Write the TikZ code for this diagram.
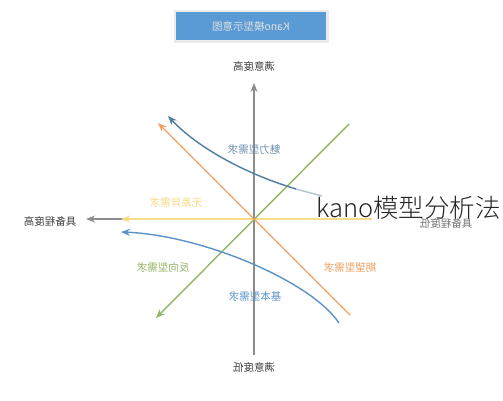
\documentclass[tikz,border=0pt]{standalone}
\usepackage{fontspec}
\usepackage{graphicx}
\newfontfamily\cjk{Noto Sans CJK SC}
\newfontfamily\cjklight{Noto Sans CJK SC Light}
\usetikzlibrary{arrows.meta}
\definecolor{axisgray}{HTML}{8C8C8C}
\definecolor{titleblue}{HTML}{5B9BD5}
\definecolor{charmblue}{HTML}{4F7D9E}
\definecolor{basicblue}{HTML}{5B93C8}
\definecolor{exporange}{HTML}{EFA062}
\definecolor{revgreen}{HTML}{93B463}
\definecolor{indyellow}{HTML}{F6DC86}
\tikzset{
  lbl/.style={font=\cjk\fontsize{10.5}{12}\selectfont, inner sep=1pt},
  axislbl/.style={lbl, text=black!75},
  conn/.style={line width=1.4pt, -{Stealth[length=9pt,width=7pt]}},
}
\begin{document}
\begin{tikzpicture}[x=1pt,y=-1pt]
\useasboundingbox (0,0) rectangle (503,400);
\fill[white] (0,0) rectangle (503,400);
% title
\fill[black!8] (174,10) rectangle (329,43);
\node[fill=titleblue, minimum width=150pt, minimum height=28pt, inner sep=0pt,
      font=\cjk\fontsize{10.5}{12}\selectfont, text=white!88!black] (title) at (251,26)
      {\reflectbox{Kano模型示意图}};
% axes
\coordinate (vtop) at (254,83);
\coordinate (vbot) at (254,355);
\coordinate (hleft) at (86,219);
\coordinate (hright) at (372,219);
\draw[axisgray, line width=1.3pt, -{Stealth[length=9pt,width=7pt]}] (vbot) -- (vtop);
\draw[axisgray, line width=1.3pt, -{Stealth[length=9pt,width=7pt]}] (hright) -- (hleft);
\node[axislbl] (ltop) at (254,66) {\reflectbox{满意度高}};
\node[axislbl] (lbot) at (254,367) {\reflectbox{满意度低}};
\node[axislbl] (lleft) at (50,221) {\reflectbox{具备程度高}};
\node[axislbl, text=black!55] (lright) at (446,223) {\reflectbox{具备程度低}};
% indifferent (yellow)
\coordinate (yR) at (372,219);
\coordinate (yL) at (121,219);
\draw[conn, indyellow] (yR) -- (yL);
% reverse (green)
\coordinate (gU) at (349,124);
\coordinate (gD) at (156,318);
\draw[conn, revgreen] (gU) -- (gD);
% expected (orange)
\coordinate (oD) at (350,315);
\coordinate (oU) at (158,123);
\draw[conn, exporange] (oD) -- (oU);
% attractive (dark blue)
\coordinate (cR) at (322,196);
\coordinate (cL) at (168,116);
\draw[line width=1.4pt, charmblue!45] (cR) -- (296,189);
\draw[conn, charmblue] (296,189) .. controls (240,172) and (195,145) .. (cL);
% basic (light blue)
\coordinate (bR) at (339,323);
\coordinate (bL) at (121,232);
\draw[conn, basicblue] (bR) .. controls (310,280) and (200,235) .. (bL);
% labels
\node[lbl, text=charmblue!85] (lcharm) at (254,150) {\reflectbox{魅力型需求}};
\node[lbl, text=indyellow] (lind) at (176,203) {\reflectbox{无差异需求}};
\node[lbl, text=revgreen] (lrev) at (163,268) {\reflectbox{反向型需求}};
\node[lbl, text=exporange] (lexp) at (350,268) {\reflectbox{期望型需求}};
\node[lbl, text=basicblue] (lbasic) at (255,297) {\reflectbox{基本型需求}};
% overlay text
\node[anchor=base west, inner sep=0pt, font=\cjklight\fontsize{25.5}{28}\selectfont, text=black!85] (kano) at (316,217) {kano模型分析法};
\end{tikzpicture}
\end{document}
